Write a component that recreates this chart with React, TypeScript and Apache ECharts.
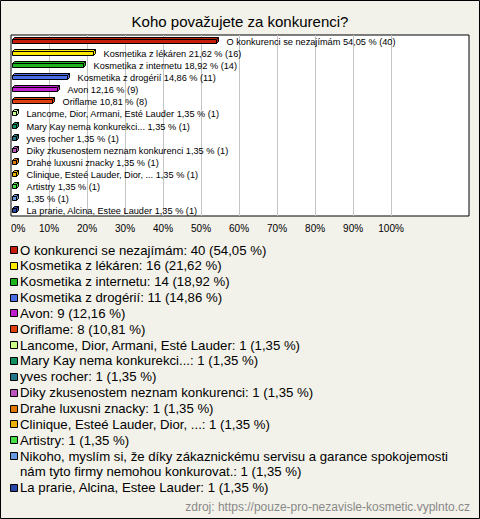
import React, { useEffect, useRef } from "react";
import * as echarts from "echarts";

const title = "Koho považujete za konkurenci?";
const legendNames = [
  "O konkurenci se nezajímám",
  "Kosmetika z lékáren",
  "Kosmetika z internetu",
  "Kosmetika z drogérií",
  "Avon",
  "Oriflame",
  "Lancome, Dior, Armani, Esté Lauder",
  "Mary Kay nema konkurekci...",
  "yves rocher",
  "Diky zkusenostem neznam konkurenci",
  "Drahe luxusni znacky",
  "Clinique, Esteé Lauder, Dior, ...",
  "Artistry",
  "Nikoho, myslím si, že díky zákaznickému servisu a garance spokojemosti\nnám tyto firmy nemohou konkurovat.",
  "La prarie, Alcina, Estee Lauder",
];
const barNames = [
  "O konkurenci se nezajímám",
  "Kosmetika z lékáren",
  "Kosmetika z internetu",
  "Kosmetika z drogérií",
  "Avon",
  "Oriflame",
  "Lancome, Dior, Armani, Esté Lauder",
  "Mary Kay nema konkurekci...",
  "yves rocher",
  "Diky zkusenostem neznam konkurenci",
  "Drahe luxusni znacky",
  "Clinique, Esteé Lauder, Dior, ...",
  "Artistry",
  "",
  "La prarie, Alcina, Estee Lauder",
];
const counts = [40, 16, 14, 11, 9, 8, 1, 1, 1, 1, 1, 1, 1, 1, 1];
const percents = [54.05, 21.62, 18.92, 14.86, 12.16, 10.81, 1.35, 1.35, 1.35, 1.35, 1.35, 1.35, 1.35, 1.35, 1.35];
const colors = [
  "#c41d0b", "#ffe800", "#1db41d", "#4a6ee6", "#c01fd0", "#e0400e",
  "#ccff88", "#119060", "#227788", "#bb55bb", "#e07700", "#e8b000",
  "#44dd44", "#6699e0", "#2848a8",
];
const gridTicks = [10, 20, 30, 40, 50, 60, 70, 80, 90, 100];
const source = "zdroj: https://pouze-pro-nezavisle-kosmetic.vyplnto.cz";

const FONT = 'Arial, "Liberation Sans", sans-serif';
const fmt = (v: number) => v.toFixed(2).replace(".", ",");

export default function App() {
  const ref = useRef<HTMLDivElement>(null);
  useEffect(() => {
    if (!ref.current) return;
    const chart = echarts.init(ref.current, null, { renderer: "svg" });

    const legendEls: any[] = [];
    let line = 0;
    const lineH = 15.85;
    const legTop = 250;
    legendNames.forEach((n, i) => {
      const cy = legTop + line * lineH;
      const multi = n.includes("\n");
      legendEls.push({
        type: "rect",
        shape: { x: 10.5, y: Math.round(cy) - 3.5, width: 7, height: 7 },
        style: { fill: colors[i], stroke: "#000", lineWidth: 1 },
      });
      legendEls.push({
        type: "text",
        x: 20,
        y: multi ? cy - lineH / 2 : cy,
        style: {
          text: `${n}: ${counts[i]} (${fmt(percents[i])} %)`,
          font: `13.2px ${FONT}`,
          fill: "#000",
          verticalAlign: multi ? "top" : "middle",
          lineHeight: lineH,
        },
      });
      line += n.split("\n").length;
    });

    const data = percents.map((p, i) => [p, i]);

    chart.setOption({
      animation: false,
      backgroundColor: "#f3f2ea",
      title: {
        text: title,
        left: "center",
        top: 9,
        textStyle: { fontFamily: FONT, fontSize: 15, fontWeight: "normal", color: "#000" },
      },
      grid: {
        left: 11,
        top: 35,
        width: 458,
        height: 181,
        show: true,
        backgroundColor: "#fff",
        borderColor: "#000",
        borderWidth: 1,
      },
      xAxis: {
        type: "value",
        min: 0,
        max: 120.5,
        interval: 10,
        axisLine: { show: false },
        axisTick: { show: false },
        splitLine: { show: false },
        axisLabel: {
          fontFamily: FONT,
          fontSize: 10,
          color: "#000",
          margin: 7,
          alignMinLabel: "left",
          formatter: (v: number) => (v <= 100 ? `${v}%` : ""),
        },
      },
      yAxis: {
        type: "category",
        data: barNames,
        inverse: true,
        axisLine: { show: false },
        axisTick: { show: false },
        axisLabel: { show: false },
        splitLine: { show: false },
      },
      series: [
        {
          type: "custom",
          encode: { x: 0, y: 1 },
          data,
          z: 3,
          markLine: {
            silent: true,
            symbol: "none",
            label: { show: false },
            lineStyle: { color: "#c4c4c4", width: 1, type: "solid" },
            data: gridTicks.map((t) => ({ xAxis: t })),
            z: 1,
          },
          renderItem: (params: any, api: any) => {
            const idx = api.value(1);
            const val = api.value(0);
            const start = api.coord([0, idx]);
            const end = api.coord([val, idx]);
            const x0 = Math.round(start[0]) + 1.5;
            const x1 = Math.round(end[0]) + 0.5;
            const c = Math.round(start[1]);
            const top = c - 1.5;
            const h = 4;
            const d = 2;
            const col = colors[idx];
            const label = `${barNames[idx] ? barNames[idx] + " " : ""}${fmt(percents[idx])} % (${counts[idx]})`;
            return {
              type: "group",
              children: [
                {
                  type: "polygon",
                  shape: { points: [[x0, top], [x0 + d, top - d], [x1 + d, top - d], [x1, top]] },
                  style: { fill: col, stroke: "#000", lineWidth: 1 },
                },
                {
                  type: "polygon",
                  shape: { points: [[x1, top], [x1 + d, top - d], [x1 + d, top + h - d], [x1, top + h]] },
                  style: { fill: col, stroke: "#000", lineWidth: 1 },
                },
                {
                  type: "rect",
                  shape: { x: x0, y: top, width: x1 - x0, height: h },
                  style: { fill: col, stroke: "#000", lineWidth: 1 },
                },
                {
                  type: "text",
                  x: x1 + 10,
                  y: c + 0.5,
                  style: {
                    text: label,
                    font: `9.2px ${FONT}`,
                    fill: "#000",
                    verticalAlign: "middle",
                  },
                },
              ],
            };
          },
        },
      ],
      graphic: [
        {
          type: "rect",
          shape: { x: 0.5, y: 0.5, width: 479, height: 518 },
          style: { fill: "none", stroke: "#000", lineWidth: 1 },
          silent: true,
        },
        ...legendEls,
        {
          type: "text",
          right: 10,
          top: 501,
          style: { text: source, font: `12px ${FONT}`, fill: "#888" },
        },
      ],
    });
    return () => chart.dispose();
  }, []);
  return (
    <div
      ref={ref}
      style={{ position: "fixed", left: 0, top: 0, width: 480, height: 519 }}
    />
  );
}
